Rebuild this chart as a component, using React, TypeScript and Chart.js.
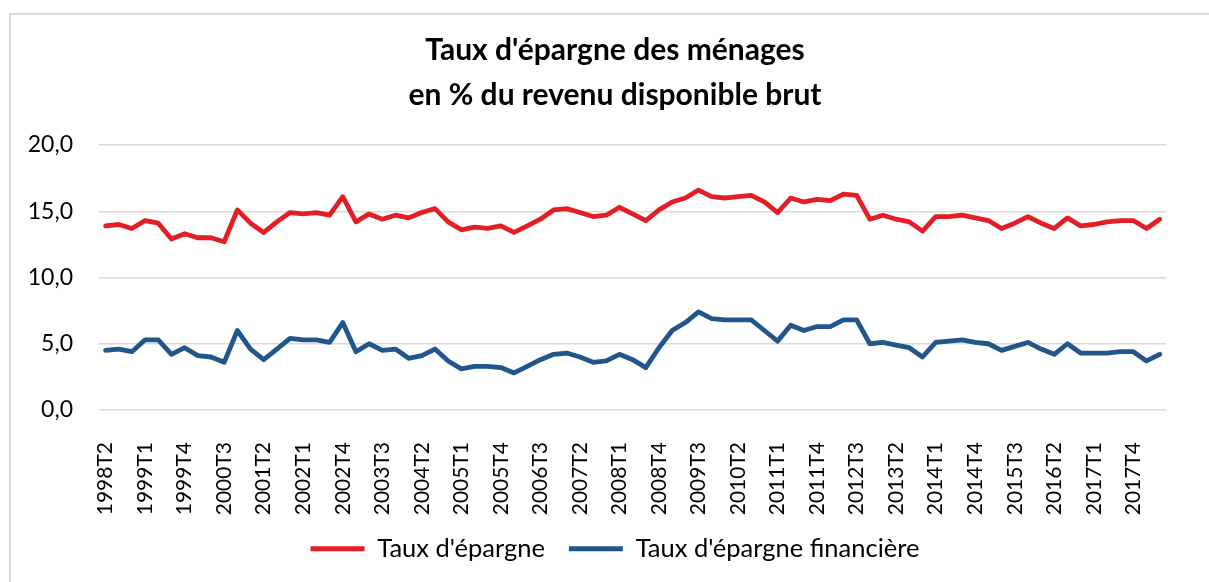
import React, { useEffect, useRef } from "react";
import { Chart, registerables } from "chart.js";

Chart.register(...registerables);

const quarters: string[] = [
  "1998T2", "1998T3", "1998T4",
  "1999T1", "1999T2", "1999T3", "1999T4",
  "2000T1", "2000T2", "2000T3", "2000T4",
  "2001T1", "2001T2", "2001T3", "2001T4",
  "2002T1", "2002T2", "2002T3", "2002T4",
  "2003T1", "2003T2", "2003T3", "2003T4",
  "2004T1", "2004T2", "2004T3", "2004T4",
  "2005T1", "2005T2", "2005T3", "2005T4",
  "2006T1", "2006T2", "2006T3", "2006T4",
  "2007T1", "2007T2", "2007T3", "2007T4",
  "2008T1", "2008T2", "2008T3", "2008T4",
  "2009T1", "2009T2", "2009T3", "2009T4",
  "2010T1", "2010T2", "2010T3", "2010T4",
  "2011T1", "2011T2", "2011T3", "2011T4",
  "2012T1", "2012T2", "2012T3", "2012T4",
  "2013T1", "2013T2", "2013T3", "2013T4",
  "2014T1", "2014T2", "2014T3", "2014T4",
  "2015T1", "2015T2", "2015T3", "2015T4",
  "2016T1", "2016T2", "2016T3", "2016T4",
  "2017T1", "2017T2", "2017T3", "2017T4",
  "2018T1", "2018T2",
];

const tauxEpargne: number[] = [
  13.9, 14.0, 13.7, 14.3, 14.1, 12.9, 13.3, 13.0, 13.0, 12.7,
  15.1, 14.1, 13.4, 14.2, 14.9, 14.8, 14.9, 14.7, 16.1, 14.2,
  14.8, 14.4, 14.7, 14.5, 14.9, 15.2, 14.2, 13.6, 13.8, 13.7,
  13.9, 13.4, 13.9, 14.4, 15.1, 15.2, 14.9, 14.6, 14.7, 15.3,
  14.8, 14.3, 15.1, 15.7, 16.0, 16.6, 16.1, 16.0, 16.1, 16.2,
  15.7, 14.9, 16.0, 15.7, 15.9, 15.8, 16.3, 16.2, 14.4, 14.7,
  14.4, 14.2, 13.5, 14.6, 14.6, 14.7, 14.5, 14.3, 13.7, 14.1,
  14.6, 14.1, 13.7, 14.5, 13.9, 14.0, 14.2, 14.3, 14.3, 13.7, 14.4,
];

const tauxEpargneFinanciere: number[] = [
  4.5, 4.6, 4.4, 5.3, 5.3, 4.2, 4.7, 4.1, 4.0, 3.6,
  6.0, 4.6, 3.8, 4.6, 5.4, 5.3, 5.3, 5.1, 6.6, 4.4,
  5.0, 4.5, 4.6, 3.9, 4.1, 4.6, 3.7, 3.1, 3.3, 3.3,
  3.2, 2.8, 3.3, 3.8, 4.2, 4.3, 4.0, 3.6, 3.7, 4.2,
  3.8, 3.2, 4.7, 6.0, 6.6, 7.4, 6.9, 6.8, 6.8, 6.8,
  6.0, 5.2, 6.4, 6.0, 6.3, 6.3, 6.8, 6.8, 5.0, 5.1,
  4.9, 4.7, 4.0, 5.1, 5.2, 5.3, 5.1, 5.0, 4.5, 4.8,
  5.1, 4.6, 4.2, 5.0, 4.3, 4.3, 4.3, 4.4, 4.4, 3.7, 4.2,
];

const seriesNames: string[] = ["Taux d'épargne", "Taux d'épargne financière"];
const titleLines: string[] = ["Taux d'épargne des ménages", "en % du revenu disponible brut"];

const RED = "#E41E26";
const BLUE = "#22558A";
const FONT = "Lato, 'Open Sans', sans-serif";

// shifts the centred title and legend a little to the right, as in the original,
// and lets the rotated x labels run past the axis box without being clipped
const layoutTweaks = {
  id: "layoutTweaks",
  afterLayout(chart: any) {
    const d = 9;
    if (chart.titleBlock) {
      chart.titleBlock.left += d;
      chart.titleBlock.right += d;
    }
    if (chart.legend) {
      chart.legend.left += d;
      chart.legend.right += d;
    }
    if (chart.scales && chart.scales.x) {
      chart.scales.x.bottom = chart.height;
    }
  },
};

export default function App() {
  const canvasRef = useRef<HTMLCanvasElement | null>(null);

  useEffect(() => {
    if (!canvasRef.current) return;
    const chart = new Chart(canvasRef.current, {
      type: "line",
      data: {
        labels: quarters,
        datasets: [
          {
            label: seriesNames[0],
            data: tauxEpargne,
            borderColor: RED,
            backgroundColor: RED,
            borderWidth: 4.8,
            borderCapStyle: "round",
            borderJoinStyle: "round",
            pointRadius: 0,
            tension: 0,
          },
          {
            label: seriesNames[1],
            data: tauxEpargneFinanciere,
            borderColor: BLUE,
            backgroundColor: BLUE,
            borderWidth: 4.8,
            borderCapStyle: "round",
            borderJoinStyle: "round",
            pointRadius: 0,
            tension: 0,
          },
        ],
      },
      plugins: [layoutTweaks],
      options: {
        animation: false,
        responsive: false,
        maintainAspectRatio: false,
        layout: { padding: { left: 22, right: 19, top: 27.5, bottom: 10.5 } },
        plugins: {
          tooltip: { enabled: false },
          title: {
            display: true,
            text: titleLines,
            color: "#000",
            font: { family: FONT, size: 30, weight: "bold", lineHeight: 1.5 },
            padding: { top: 0, bottom: 27.5 },
          },
          legend: {
            display: true,
            position: "bottom",
            labels: {
              color: "#000",
              font: { family: FONT, size: 25.5 },
              usePointStyle: true,
              pointStyle: "line",
              pointStyleWidth: 54,
              padding: 24,
            },
          },
        },
        scales: {
          x: {
            offset: true,
            afterFit: (s: any) => {
              s.height = 102;
            },
            grid: { display: false },
            border: { display: false },
            ticks: {
              autoSkip: false,
              maxRotation: 90,
              minRotation: 90,
              padding: 24,
              color: "#000",
              font: { family: FONT, size: 21 },
              callback: (_v: any, i: number) => (i % 3 === 0 ? quarters[i] : ""),
            },
          },
          y: {
            min: 0,
            max: 20,
            afterFit: (s: any) => {
              s.width = 77;
            },
            grid: { color: "#d9d9d9", lineWidth: 1.5, drawTicks: false },
            border: { display: false },
            ticks: {
              stepSize: 5,
              padding: 26,
              color: "#000",
              font: { family: FONT, size: 23 },
              callback: (v: any) => Number(v).toFixed(1).replace(".", ","),
            },
          },
        },
      },
    });
    return () => chart.destroy();
  }, []);

  return (
    <div
      style={{
        position: "fixed",
        left: 0,
        top: 0,
        width: 1209,
        height: 582,
        overflow: "hidden",
        background: "#fff",
      }}
    >
      <div
        style={{
          position: "absolute",
          left: 9,
          top: 13,
          width: 1400,
          height: 800,
          borderLeft: "2px solid #d9d9d9",
          borderTop: "2px solid #d9d9d9",
        }}
      />
      <canvas
        ref={canvasRef}
        width={1209}
        height={582}
        style={{ position: "absolute", left: 0, top: 0, width: 1209, height: 582 }}
      />
    </div>
  );
}
